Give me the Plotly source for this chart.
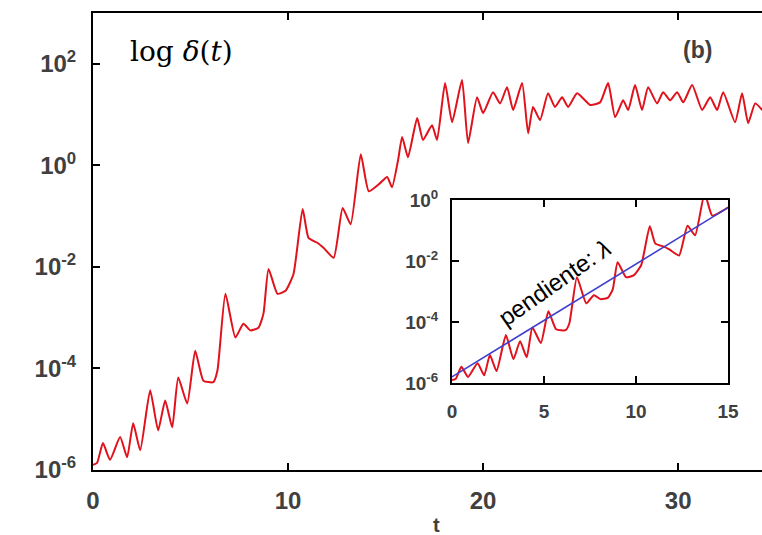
import plotly.graph_objects as go

# ---- data ----
t_vals = [0.0, 0.21, 0.51, 0.87, 1.39, 1.75, 2.06, 2.42, 2.93, 3.34, 3.70, 4.06, 4.37, 4.83,
          5.24, 5.66, 6.17, 6.38, 6.79, 7.30, 7.71, 8.07, 8.48, 8.74, 9.00, 9.46, 9.87, 10.28,
          10.75, 11.05, 11.52, 11.83, 12.34, 12.80, 13.21, 13.73, 14.14, 14.72, 15.08, 15.33,
          15.64, 15.85, 16.15, 16.62, 16.92, 17.38, 17.64, 18.05, 18.41, 18.92, 19.23, 19.69,
          20.00, 20.51, 20.87, 21.23, 21.54, 22.00, 22.31, 22.56, 22.92, 23.33, 23.69, 24.05,
          24.36, 24.82, 25.49, 26.00, 26.41, 26.77, 27.18, 27.44, 27.79, 28.15, 28.46, 28.92,
          29.23, 29.59, 29.95, 30.26, 30.72, 31.23, 31.64, 32.00, 32.31, 32.92, 33.28, 33.59,
          33.95, 34.31]
log_delta = [-5.9, -5.86, -5.47, -5.80, -5.35, -5.75, -5.08, -5.61, -4.43, -5.22, -4.63, -5.16,
             -4.18, -4.69, -3.65, -4.24, -4.27, -4.04, -2.53, -3.39, -3.12, -3.25, -3.20, -2.92,
             -2.04, -2.53, -2.47, -2.14, -0.86, -1.43, -1.53, -1.63, -1.82, -0.84, -1.16, 0.22,
             -0.51, -0.35, -0.23, -0.43, 0.10, 0.56, 0.16, 0.93, 0.50, 0.79, 0.50, 1.62, 0.85,
             1.68, 0.44, 1.34, 1.03, 1.44, 1.22, 1.54, 1.09, 1.62, 0.63, 1.15, 0.89, 1.42, 1.15,
             1.34, 1.15, 1.42, 1.19, 1.24, 1.62, 0.95, 1.28, 1.09, 1.58, 1.09, 1.54, 1.22, 1.44,
             1.28, 1.44, 1.24, 1.58, 1.09, 1.34, 1.09, 1.44, 0.85, 1.42, 0.83, 1.22, 1.09]
fit_t = [0, 15]
fit_log = [-5.8, -0.25]

main_ytick_vals = [1e-6, 1e-4, 1e-2, 1e0, 1e2]
main_ytick_text = ["10<sup>-6</sup>", "10<sup>-4</sup>", "10<sup>-2</sup>", "10<sup>0</sup>", "10<sup>2</sup>"]
main_xtick_vals = [0, 10, 20, 30]
inset_ytick_vals = [1e-6, 1e-4, 1e-2, 1e0]
inset_ytick_text = ["10<sup>-6</sup>", "10<sup>-4</sup>", "10<sup>-2</sup>", "10<sup>0</sup>"]
inset_xtick_vals = [0, 5, 10, 15]

delta = [10 ** v for v in log_delta]
fit_delta = [10 ** v for v in fit_log]

RED = "#e0121c"
BLUE = "#4040cc"
TICKC = "#404040"

fig = go.Figure()
fig.add_trace(go.Scatter(x=t_vals, y=delta, mode="lines",
                         line=dict(color=RED, width=2, shape="spline", smoothing=0.5),
                         xaxis="x", yaxis="y", showlegend=False))
fig.add_trace(go.Scatter(x=t_vals, y=delta, mode="lines",
                         line=dict(color=RED, width=2, shape="spline", smoothing=0.5),
                         xaxis="x2", yaxis="y2", showlegend=False))
fig.add_trace(go.Scatter(x=fit_t, y=fit_delta, mode="lines", line=dict(color=BLUE, width=1.6),
                         xaxis="x2", yaxis="y2", showlegend=False))

tickfont_main = dict(family="Liberation Sans, Arial, sans-serif", size=24, color=TICKC, weight="bold")
tickfont_inset = dict(family="Liberation Sans, Arial, sans-serif", size=19, color=TICKC, weight="bold")

fig.update_layout(
    width=762, height=535,
    margin=dict(l=93, r=0, t=13, b=65, autoexpand=False),
    paper_bgcolor="white", plot_bgcolor="white",
    xaxis=dict(domain=[0, 1], range=[0, 34.3], tickvals=main_xtick_vals,
               ticks="inside", ticklen=7, tickwidth=2, tickcolor="black",
               showline=True, linecolor="black", linewidth=2, mirror="ticks",
               showgrid=False, zeroline=False, tickfont=tickfont_main, anchor="y",
               ticklabelstandoff=8),
    yaxis=dict(domain=[0, 1], type="log", range=[-6, 3], tickvals=main_ytick_vals,
               ticktext=main_ytick_text, ticks="inside", ticklen=7, tickwidth=2,
               tickcolor="black", showline=True, linecolor="black", linewidth=2,
               mirror=False, showgrid=False, zeroline=False, tickfont=tickfont_main,
               anchor="x", ticklabelstandoff=10),
    xaxis2=dict(domain=[0.5366, 0.9492], range=[0, 15], tickvals=inset_xtick_vals,
                ticks="inside", ticklen=7, tickwidth=2, tickcolor="black",
                showline=True, linecolor="black", linewidth=2, mirror="ticks",
                showgrid=False, zeroline=False, tickfont=tickfont_inset, anchor="y2",
                ticklabelstandoff=10),
    yaxis2=dict(domain=[0.1904, 0.5908], type="log", range=[-6, 0], tickvals=inset_ytick_vals,
                ticktext=inset_ytick_text, ticks="inside", ticklen=7, tickwidth=2,
                tickcolor="black", showline=True, linecolor="black", linewidth=2,
                mirror="ticks", showgrid=False, zeroline=False, tickfont=tickfont_inset,
                anchor="x2", ticklabelstandoff=8),
    annotations=[
        dict(text="log <i>δ</i>(<i>t</i>)", xref="paper", yref="paper", x=0.133, y=0.915,
             xanchor="center", yanchor="middle", showarrow=False,
             font=dict(family="DejaVu Serif, Liberation Serif, serif", size=28, color="black")),
        dict(text="(b)", xref="paper", yref="paper", x=0.904, y=0.919, xanchor="center",
             yanchor="middle", showarrow=False,
             font=dict(family="Liberation Sans, Arial, sans-serif", size=23, color=TICKC, weight="bold")),
        dict(text="pendiente: <i>λ</i>", xref="paper", yref="paper", x=0.69, y=0.411,
             xanchor="center", yanchor="middle", showarrow=False, textangle=-35,
             font=dict(family="Liberation Sans, Arial, sans-serif", size=24, color="black")),
        dict(text="t", xref="paper", yref="paper", x=0.514, y=-0.12, xanchor="center",
             yanchor="middle", showarrow=False,
             font=dict(family="Liberation Sans, Arial, sans-serif", size=20, color=TICKC, weight="bold")),
    ],
)

fig.write_html("out.html")
